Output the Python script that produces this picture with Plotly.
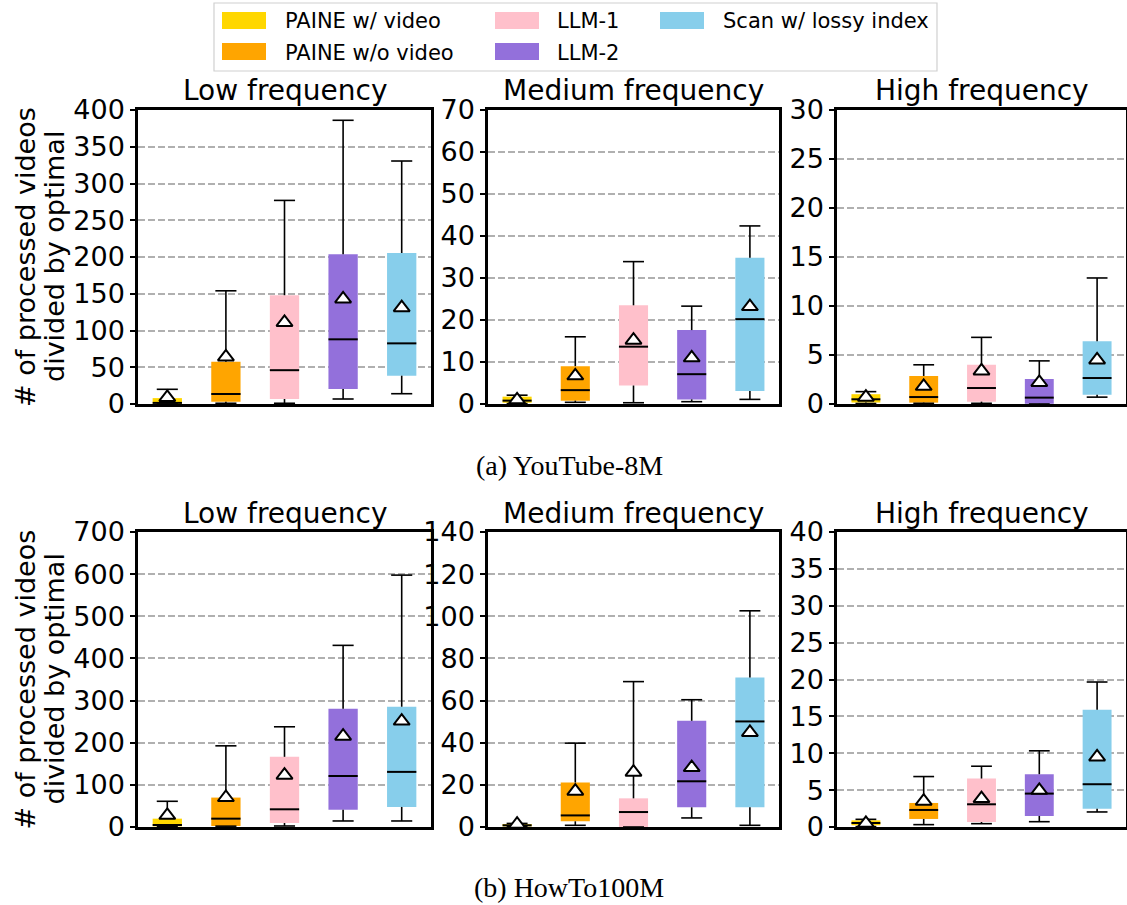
import plotly.graph_objects as go

W, H = 1127, 905

# ---------------- data ----------------
methods = ["PAINE w/ video", "PAINE w/o video", "LLM-1", "LLM-2", "Scan w/ lossy index"]
colors = ["#FFD700", "#FFA500", "#FFC0CB", "#9370DB", "#87CEEB"]
positions = [1, 2, 3, 4, 5]

freq_titles = ["Low frequency", "Medium frequency", "High frequency"]
captions = ["(a) YouTube-8M", "(b) HowTo100M"]
ylabel_lines = ["# of processed videos", "divided by optimal"]

# YouTube-8M, low frequency
yt_low_lower = [0, 1, 1, 6.8, 14]
yt_low_q1 = [0.5, 3, 6.8, 20.4, 38.5]
yt_low_median = [1.5, 13.6, 46, 88, 82.5]
yt_low_q3 = [8, 57.6, 148, 203.6, 205.4]
yt_low_upper = [20, 154, 277, 386, 330.6]
yt_low_mean = [9, 64, 111, 143, 131]

# YouTube-8M, medium frequency
yt_med_lower = [0.1, 0.4, 0.3, 0.55, 1.1]
yt_med_q1 = [0.3, 0.8, 4.4, 1.1, 3.1]
yt_med_median = [0.8, 3.3, 13.65, 7.1, 20.2]
yt_med_q3 = [1.75, 9.0, 23.5, 17.6, 34.8]
yt_med_upper = [2.1, 16.0, 33.9, 23.3, 42.4]
yt_med_mean = [1.0, 6.7, 15.2, 11.0, 23.2]

# YouTube-8M, high frequency
yt_high_lower = [0.05, 0.07, 0.07, 0.0, 0.7]
yt_high_q1 = [0.15, 0.14, 0.24, 0.02, 0.95]
yt_high_median = [0.48, 0.71, 1.63, 0.65, 2.65]
yt_high_q3 = [1.0, 2.86, 4.0, 2.55, 6.4]
yt_high_upper = [1.26, 4.0, 6.8, 4.4, 12.86]
yt_high_mean = [0.7, 1.8, 3.37, 2.2, 4.5]

# HowTo100M, low frequency
ht_low_lower = [1, 2, 2.4, 14.3, 14.3]
ht_low_q1 = [1.5, 2.4, 9.5, 41, 47.6]
ht_low_median = [4.8, 19.8, 42, 121, 130.8]
ht_low_q3 = [19.8, 69.8, 166.5, 280.6, 285.4]
ht_low_upper = [61, 192.6, 237.8, 431, 597.7]
ht_low_mean = [27.7, 70, 123, 215.6, 251.3]

# HowTo100M, medium frequency
ht_med_lower = [0.1, 0.8, 0.0, 4.3, 0.8]
ht_med_q1 = [0.3, 2.7, 0.0, 9.35, 9.35]
ht_med_median = [0.8, 5.5, 7.1, 21.7, 50.1]
ht_med_q3 = [1.4, 21.1, 13.6, 50.4, 71.0]
ht_med_upper = [1.7, 39.8, 69.0, 60.4, 102.6]
ht_med_mean = [1.3, 17.0, 26.0, 28.2, 44.9]

# HowTo100M, high frequency
ht_high_lower = [0.05, 0.32, 0.45, 0.72, 2.04]
ht_high_q1 = [0.23, 1.09, 0.68, 1.5, 2.49]
ht_high_median = [0.54, 2.31, 3.08, 4.53, 5.8]
ht_high_q3 = [0.9, 3.26, 6.57, 7.16, 15.9]
ht_high_upper = [1.04, 6.84, 8.24, 10.33, 19.66]
ht_high_mean = [0.5, 3.5, 3.85, 4.98, 9.5]

y_max = [[400, 70, 30], [700, 140, 40]]
y_dtick = [[50, 10, 5], [100, 20, 5]]

panels = [
    [
        (yt_low_lower, yt_low_q1, yt_low_median, yt_low_q3, yt_low_upper, yt_low_mean),
        (yt_med_lower, yt_med_q1, yt_med_median, yt_med_q3, yt_med_upper, yt_med_mean),
        (yt_high_lower, yt_high_q1, yt_high_median, yt_high_q3, yt_high_upper, yt_high_mean),
    ],
    [
        (ht_low_lower, ht_low_q1, ht_low_median, ht_low_q3, ht_low_upper, ht_low_mean),
        (ht_med_lower, ht_med_q1, ht_med_median, ht_med_q3, ht_med_upper, ht_med_mean),
        (ht_high_lower, ht_high_q1, ht_high_median, ht_high_q3, ht_high_upper, ht_high_mean),
    ],
]

# ---------------- layout geometry (pixels) ----------------
col_px = [(138, 431), (488, 779), (837, 1126)]
row_px = [(110, 404), (532, 827)]
BOX_W = 0.5
CAP_W = 0.36

FONT = "DejaVu Sans"
TICK_SIZE = 27
LABEL_SIZE = 27
TITLE_SIZE = 28


def px_x(x):
    return x / W


def px_y(y):
    return 1 - y / H


fig = go.Figure()
layout = {}
annotations = []
shapes = []

k = 0
for r in range(2):
    for c in range(3):
        k += 1
        lower, q1, med, q3, upper, mean = panels[r][c]
        xa = "x" if k == 1 else f"x{k}"
        ya = "y" if k == 1 else f"y{k}"

        # boxes (IQR)
        fig.add_trace(go.Bar(
            x=positions, base=q1, y=[b - a for a, b in zip(q1, q3)],
            width=BOX_W, marker=dict(color=colors, line=dict(width=0)),
            xaxis=xa, yaxis=ya, hoverinfo="skip", showlegend=False,
        ))

        # whiskers
        wx, wy = [], []
        for p, lo, a, b, hi in zip(positions, lower, q1, q3, upper):
            wx += [p, p, None, p, p, None]
            wy += [b, hi, None, a, lo, None]
        fig.add_trace(go.Scatter(x=wx, y=wy, mode="lines",
                                 line=dict(color="black", width=1.6),
                                 xaxis=xa, yaxis=ya, hoverinfo="skip", showlegend=False))
        # caps
        cx, cy = [], []
        for p, lo, hi in zip(positions, lower, upper):
            cx += [p - CAP_W / 2, p + CAP_W / 2, None, p - CAP_W / 2, p + CAP_W / 2, None]
            cy += [hi, hi, None, lo, lo, None]
        fig.add_trace(go.Scatter(x=cx, y=cy, mode="lines",
                                 line=dict(color="black", width=1.6),
                                 xaxis=xa, yaxis=ya, hoverinfo="skip", showlegend=False))
        # medians
        mx, my = [], []
        for p, m in zip(positions, med):
            mx += [p - BOX_W / 2, p + BOX_W / 2, None]
            my += [m, m, None]
        fig.add_trace(go.Scatter(x=mx, y=my, mode="lines",
                                 line=dict(color="black", width=2),
                                 xaxis=xa, yaxis=ya, hoverinfo="skip", showlegend=False))
        # means
        fig.add_trace(go.Scatter(x=positions, y=mean, mode="markers",
                                 marker=dict(symbol="triangle-up", size=14, color="white",
                                             line=dict(color="black", width=2)),
                                 xaxis=xa, yaxis=ya, hoverinfo="skip", showlegend=False,
                                 cliponaxis=False))

        x0, x1 = col_px[c]
        y0, y1 = row_px[r]
        xkey = "xaxis" if k == 1 else f"xaxis{k}"
        ykey = "yaxis" if k == 1 else f"yaxis{k}"
        layout[xkey] = dict(
            domain=[px_x(x0), px_x(x1)], range=[0.5, 5.5], anchor=ya,
            showticklabels=False, ticks="", showgrid=False, zeroline=False,
            showline=True, mirror=True, linecolor="black", linewidth=2.5,
            automargin=False,
        )
        layout[ykey] = dict(
            domain=[px_y(y1), px_y(y0)], range=[0, y_max[r][c]], anchor=xa,
            tick0=0, dtick=y_dtick[r][c], ticks="outside", ticklen=5, tickwidth=1.5,
            tickcolor="black", showline=True, mirror=True, linecolor="black",
            linewidth=2.5, showgrid=True, gridcolor="#b0b0b0", gridwidth=1.6,
            griddash="7px,3px", zeroline=False, automargin=False,
            tickfont=dict(family=FONT, size=TICK_SIZE, color="black"),
        )

        # subplot title
        annotations.append(dict(
            text=freq_titles[c], x=px_x((x0 + x1) / 2), y=px_y(y0 - 19),
            xref="paper", yref="paper", xanchor="center", yanchor="middle",
            showarrow=False, font=dict(family=FONT, size=TITLE_SIZE, color="black"),
        ))

    # y-axis label for the row (two lines)
    yc = (row_px[r][0] + row_px[r][1]) / 2
    for line_text, xc in zip(ylabel_lines, [25, 54]):
        annotations.append(dict(
            text=line_text, x=px_x(xc), y=px_y(yc), textangle=-90,
            xref="paper", yref="paper", xanchor="center", yanchor="middle",
            showarrow=False, font=dict(family=FONT, size=LABEL_SIZE, color="black"),
        ))

# captions
for cap, yc in zip(captions, [465, 887]):
    annotations.append(dict(
        text=cap, x=px_x(569), y=px_y(yc), xref="paper", yref="paper",
        xanchor="center", yanchor="middle", showarrow=False,
        font=dict(family="Liberation Serif", size=28, color="black"),
    ))

# legend (manual, matplotlib style: 3 columns, column-major)
shapes.append(dict(type="rect", xref="paper", yref="paper",
                   x0=px_x(214), x1=px_x(937), y0=px_y(71), y1=px_y(3),
                   line=dict(color="#d0d0d0", width=1.2), fillcolor="white", layer="above"))
patch_x = [222, 495, 660]
text_x = [283, 555, 721]
row_y = [20.5, 51.5]
for i, (name, col) in enumerate(zip(methods, colors)):
    cidx, ridx = i // 2, i % 2
    shapes.append(dict(type="rect", xref="paper", yref="paper",
                       x0=px_x(patch_x[cidx]), x1=px_x(patch_x[cidx] + 44),
                       y0=px_y(row_y[ridx] + 8.5), y1=px_y(row_y[ridx] - 8.5),
                       line=dict(width=0), fillcolor=col, layer="above"))
    annotations.append(dict(
        text=name, x=px_x(text_x[cidx]), y=px_y(row_y[ridx] + 1), xref="paper", yref="paper",
        xanchor="left", yanchor="middle", showarrow=False,
        font=dict(family=FONT, size=21, color="black"),
    ))

fig.update_layout(
    width=W, height=H, margin=dict(l=0, r=0, t=0, b=0, autoexpand=False),
    paper_bgcolor="white", plot_bgcolor="white",
    showlegend=False, annotations=annotations, shapes=shapes,
    **layout,
)

fig.write_html("out.html")
